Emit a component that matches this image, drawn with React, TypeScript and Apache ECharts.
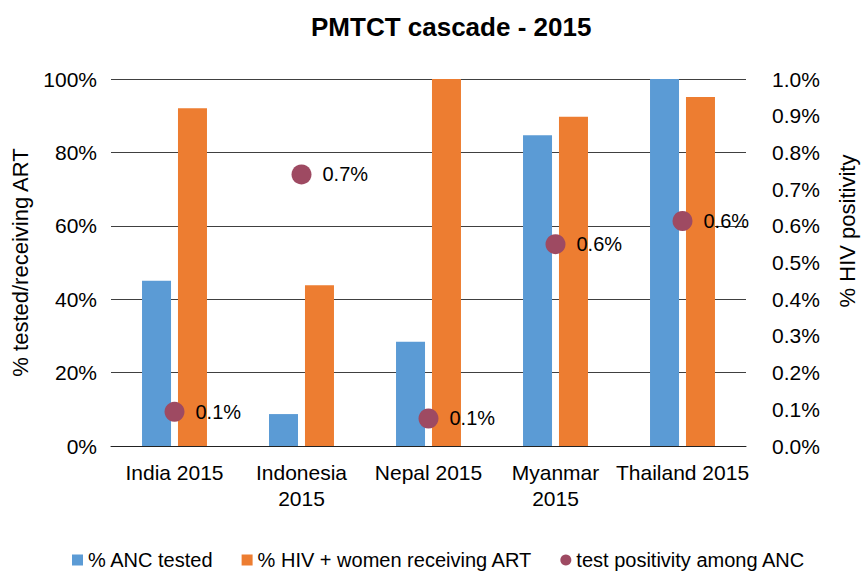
import React, { useEffect, useRef } from "react";
import * as echarts from "echarts";

const categories = ["India 2015", "Indonesia\n2015", "Nepal 2015", "Myanmar\n2015", "Thailand 2015"];
const ancTested = [45, 8.7, 28.4, 84.7, 100];
const artReceiving = [92, 43.8, 100, 89.7, 95.1];
const positivity = [0.093, 0.74, 0.075, 0.55, 0.613];
const leftTicks = { min: 0, max: 100, interval: 20 };
const rightTicks = { min: 0, max: 1, interval: 0.1 };

const FONT = "'Liberation Sans', Arial, Helvetica, sans-serif";

export default function App() {
  const ref = useRef<HTMLDivElement>(null);
  useEffect(() => {
    if (!ref.current) return;
    const chart = echarts.init(ref.current, undefined, { renderer: "svg" });
    chart.setOption({
      animation: false,
      backgroundColor: "#ffffff",
      textStyle: { fontFamily: FONT },
      title: {
        text: "PMTCT cascade - 2015",
        left: 306,
        top: 9,
        textStyle: { fontFamily: FONT, fontSize: 26, fontWeight: "bold", color: "#000" },
      },
      legend: {
        left: 67,
        top: 545,
        itemWidth: 11,
        itemHeight: 11,
        itemGap: 28,
        textStyle: { fontFamily: FONT, fontSize: 20, color: "#000", lineHeight: 20 },
        data: [
          { name: "% ANC tested", icon: "rect" },
          { name: "% HIV + women receiving ART", icon: "rect" },
          { name: "test positivity among ANC", icon: "circle" },
        ],
      },
      grid: { left: 111, right: 119, top: 79, bottom: 125, containLabel: false },
      xAxis: {
        type: "category",
        data: categories,
        axisTick: { show: false },
        axisLine: { lineStyle: { color: "#222", width: 1 } },
        axisLabel: { fontFamily: FONT, fontSize: 21, color: "#000", margin: 13, lineHeight: 26, interval: 0 },
      },
      yAxis: [
        {
          type: "value",
          min: leftTicks.min,
          max: leftTicks.max,
          interval: leftTicks.interval,
          name: "% tested/receiving ART",
          nameLocation: "middle",
          nameGap: 80,
          nameTextStyle: { fontFamily: FONT, fontSize: 22, color: "#000" },
          axisLine: { show: false },
          axisTick: { show: false },
          splitLine: { lineStyle: { color: "#404040", width: 1 } },
          axisLabel: { fontFamily: FONT, fontSize: 21, color: "#000", margin: 14, formatter: (v: number) => `${v}%` },
        },
        {
          type: "value",
          min: rightTicks.min,
          max: rightTicks.max,
          interval: rightTicks.interval,
          position: "right",
          axisLine: { show: false },
          axisTick: { show: false },
          splitLine: { show: false },
          axisLabel: { fontFamily: FONT, fontSize: 21, color: "#000", margin: 26, formatter: (v: number) => `${v.toFixed(1)}%` },
        },
      ],
      graphic: [
        {
          type: "text",
          x: 847,
          y: 231,
          rotation: Math.PI / 2,
          style: {
            text: "% HIV positivity",
            align: "center",
            verticalAlign: "middle",
            fontFamily: FONT,
            fontSize: 22,
            fill: "#000",
          },
        },
      ],
      series: [
        {
          name: "% ANC tested",
          type: "bar",
          data: ancTested,
          barWidth: 29,
          barGap: "24%",
          itemStyle: { color: "#5b9bd5" },
        },
        {
          name: "% HIV + women receiving ART",
          type: "bar",
          data: artReceiving,
          barWidth: 29,
          barGap: "24%",
          itemStyle: { color: "#ed7d31" },
        },
        {
          name: "test positivity among ANC",
          type: "scatter",
          yAxisIndex: 1,
          data: positivity,
          symbol: "circle",
          symbolSize: 20,
          z: 5,
          itemStyle: { color: "#9e4a62", opacity: 1 },
          label: {
            show: true,
            position: "right",
            distance: 11,
            fontFamily: FONT,
            fontSize: 20,
            color: "#000",
            formatter: (p: any) => `${Number(p.value).toFixed(1)}%`,
          },
        },
      ],
    });
    return () => chart.dispose();
  }, []);
  return <div ref={ref} style={{ position: "fixed", left: 0, top: 0, width: 865, height: 571 }} />;
}
